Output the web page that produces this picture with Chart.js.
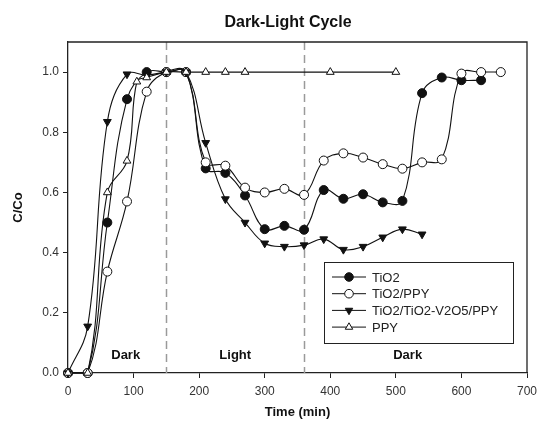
<!DOCTYPE html>
<html>
<head>
<meta charset="utf-8">
<script src="https://cdn.jsdelivr.net/npm/chart.js@4.4.0/dist/chart.umd.min.js"></script>
<style>
  html, body { margin: 0; padding: 0; background: #fff; }
  #wrap { width: 538px; height: 423px; }
</style>
</head>
<body>
<div id="wrap"><canvas id="cycleChart" width="538" height="423"></canvas></div>
<script>
// data (time in min, C/Co)
const tio2Time = [0, 30, 60, 90, 120, 150, 180, 210, 240, 270, 300, 330, 360, 390, 420, 450, 480, 510, 540, 570, 600, 630];
const tio2Vals = [0, 0, 0.50, 0.91, 1.0, 1.0, 1.0, 0.68, 0.665, 0.59, 0.478, 0.489, 0.476, 0.608, 0.579, 0.594, 0.567, 0.572, 0.93, 0.982, 0.973, 0.973];

const ppyCompTime = [0, 30, 60, 90, 120, 150, 180, 210, 240, 270, 300, 330, 360, 390, 420, 450, 480, 510, 540, 570, 600, 630, 660];
const ppyCompVals = [0, 0, 0.337, 0.57, 0.935, 1.0, 1.0, 0.70, 0.689, 0.616, 0.60, 0.612, 0.592, 0.706, 0.73, 0.716, 0.694, 0.679, 0.70, 0.71, 0.995, 1.0, 1.0];

const v2o5Time = [0, 30, 60, 90, 120, 150, 180, 210, 240, 270, 300, 330, 360, 390, 420, 450, 480, 510, 540];
const v2o5Vals = [0, 0.155, 0.835, 0.993, 0.99, 1.0, 1.0, 0.765, 0.578, 0.50, 0.431, 0.42, 0.425, 0.445, 0.41, 0.42, 0.451, 0.478, 0.461];

const ppyTime = [0, 30, 60, 90, 105, 120, 150, 180, 210, 240, 270, 400, 500];
const ppyVals = [0, 0, 0.60, 0.705, 0.968, 0.982, 1.0, 1.0, 1.0, 1.0, 1.0, 1.0, 1.0];

const seriesNames = ['TiO2', 'TiO2/PPY', 'TiO2/TiO2-V2O5/PPY', 'PPY'];
const phaseBounds = [150, 360];
const phaseLabels = [
  { text: 'Dark', x: 88, y: 0.06 },
  { text: 'Light', x: 255, y: 0.06 },
  { text: 'Dark', x: 518, y: 0.06 }
];
const xTicks = [0, 100, 200, 300, 400, 500, 600, 700];
const yTicks = [0, 0.2, 0.4, 0.6, 0.8, 1.0];

const FONT = '"Liberation Sans", Arial, sans-serif';

function pts(xs, ys) { return xs.map((x, i) => ({ x: x, y: ys[i] })); }

function series(label, xs, ys, style, fill, rot, order) {
  return {
    label: label,
    data: pts(xs, ys),
    showLine: true,
    tension: 0.4,
    borderColor: '#111',
    borderWidth: 1.1,
    pointStyle: style,
    pointRotation: rot || 0,
    pointRadius: 4.5,
    pointBackgroundColor: fill,
    pointBorderColor: '#111',
    pointBorderWidth: 1,
    order: order,
    clip: false
  };
}

const decor = {
  id: 'decor',
  beforeDatasetsDraw(chart) {
    const { ctx, chartArea: a, scales: { x, y } } = chart;
    ctx.save();
    // dashed phase boundaries
    ctx.strokeStyle = '#9a9a9a';
    ctx.lineWidth = 1.5;
    ctx.setLineDash([8, 5]);
    phaseBounds.forEach(v => {
      const px = Math.round(x.getPixelForValue(v)) + 0.5;
      ctx.beginPath();
      ctx.moveTo(px, a.top);
      ctx.lineTo(px, a.bottom);
      ctx.stroke();
    });
    ctx.setLineDash([]);
    // phase labels
    ctx.fillStyle = '#111';
    ctx.font = 'bold 13px ' + FONT;
    ctx.textAlign = 'center';
    ctx.textBaseline = 'middle';
    phaseLabels.forEach(l => {
      ctx.fillText(l.text, x.getPixelForValue(l.x), y.getPixelForValue(l.y));
    });
    ctx.restore();
  },
  afterDraw(chart) {
    const { ctx, chartArea: a } = chart;
    ctx.save();
    // frame top/right
    ctx.strokeStyle = '#222';
    ctx.lineWidth = 1.3;
    ctx.beginPath();
    ctx.moveTo(a.left, a.top);
    ctx.lineTo(a.right, a.top);
    ctx.lineTo(a.right, a.bottom);
    ctx.stroke();
    // title
    ctx.fillStyle = '#111';
    ctx.font = 'bold 16px ' + FONT;
    ctx.textAlign = 'center';
    ctx.textBaseline = 'middle';
    ctx.fillText('Dark-Light Cycle', 288, 23);
    // legend
    const bx = 324, by = 262, bw = 189, bh = 81;
    ctx.lineWidth = 1;
    ctx.strokeStyle = '#222';
    ctx.strokeRect(bx + 0.5, by + 0.5, bw, bh);
    ctx.font = '13px ' + FONT;
    ctx.textAlign = 'left';
    chart.data.datasets.forEach((ds, i) => {
      const ry = by + 15 + i * 16.7;
      ctx.strokeStyle = '#111';
      ctx.beginPath();
      ctx.moveTo(bx + 8, ry);
      ctx.lineTo(bx + 42, ry);
      ctx.stroke();
      ctx.fillStyle = ds.pointBackgroundColor;
      ctx.strokeStyle = '#111';
      Chart.helpers.drawPoint(ctx, {
        pointStyle: ds.pointStyle, rotation: ds.pointRotation, radius: 4.3, borderWidth: 1
      }, bx + 25, ry);
      ctx.fillStyle = '#222';
      ctx.fillText(ds.label, bx + 48, ry + 1);
    });
    ctx.restore();
  }
};

new Chart(document.getElementById('cycleChart'), {
  type: 'scatter',
  data: {
    datasets: [
      series(seriesNames[0], tio2Time, tio2Vals, 'circle', '#111', 0, 3),
      series(seriesNames[1], ppyCompTime, ppyCompVals, 'circle', '#fff', 0, 2),
      series(seriesNames[2], v2o5Time, v2o5Vals, 'triangle', '#111', 180, 1),
      series(seriesNames[3], ppyTime, ppyVals, 'triangle', '#fff', 0, 0)
    ]
  },
  options: {
    responsive: false,
    animation: false,
    layout: { padding: { top: 42, right: 0, left: 0, bottom: 0 } },
    plugins: {
      legend: { display: false },
      title: { display: false },
      tooltip: { enabled: false }
    },
    scales: {
      x: {
        type: 'linear',
        min: 0, max: 700,
        afterBuildTicks: s => { s.ticks = xTicks.map(v => ({ value: v })); },
        afterFit: s => { s.height = 50; s.paddingRight = 11; },
        grid: { drawOnChartArea: false, drawTicks: true, tickLength: 5, color: '#222' },
        border: { color: '#222', width: 1.3 },
        ticks: { color: '#333', font: { family: FONT, size: 12 }, padding: 6, maxRotation: 0 },
        title: { display: true, text: 'Time (min)', color: '#111', font: { family: FONT, size: 13, weight: 'bold' }, padding: { top: 0, bottom: 3 } }
      },
      y: {
        type: 'linear',
        min: 0, max: 1.1,
        afterBuildTicks: s => { s.ticks = yTicks.map(v => ({ value: v })); },
        afterFit: s => { s.width = 68; },
        grid: { drawOnChartArea: false, drawTicks: true, tickLength: 5, color: '#222' },
        border: { color: '#222', width: 1.3 },
        ticks: { color: '#333', font: { family: FONT, size: 12 }, padding: 4, callback: v => v.toFixed(1) },
        title: { display: true, text: 'C/Co', color: '#111', font: { family: FONT, size: 13, weight: 'bold' }, padding: { top: 11, bottom: 0 } }
      }
    }
  },
  plugins: [decor]
});
</script>
</body>
</html>
